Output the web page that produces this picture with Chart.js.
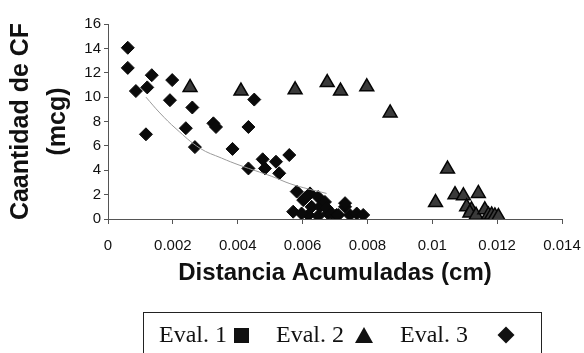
<!DOCTYPE html>
<html lang="es">
<head>
<meta charset="UTF-8">
<title>Cantidad de CF vs distancia</title>
<script src="https://cdn.jsdelivr.net/npm/chart.js"></script>
<style>
    html, body { margin: 0; padding: 0; background: #fff; }
    .wrap { position: relative; width: 584px; height: 353px; overflow: hidden; }
    #chart { position: absolute; left: 0; top: 0; }
    .legend {
        position: absolute; left: 143px; top: 312px; width: 399px; height: 50px;
        border: 1.5px solid #222; box-sizing: border-box;
        font-family: "Liberation Serif", "Times New Roman", serif; font-size: 24px; color: #111;
    }
    .legend span { position: absolute; top: 8px; line-height: 27px; }
    .mk { display: inline-block; position: absolute; }
    .sq { width: 15px; height: 15px; background: #111; top: 15px; }
    .tri { width: 0; height: 0; border-left: 9px solid transparent; border-right: 9px solid transparent; border-bottom: 16px solid #111; top: 14px; }
    .dia { width: 12px; height: 12px; background: #111; transform: rotate(45deg); top: 16px; }
</style>
</head>
<body>
<div class="wrap">
    <canvas id="chart" width="584" height="353"></canvas>
    <div class="legend">
        <span style="left:15px">Eval. 1</span><i class="mk sq" style="left:90px"></i>
        <span style="left:132px">Eval. 2</span><i class="mk tri" style="left:211px"></i>
        <span style="left:256px">Eval. 3</span><i class="mk dia" style="left:356px"></i>
    </div>
</div>

<script>
// Eval. 1 (no hay puntos visibles de esta serie)
const eval1 = [];

// Eval. 2: distancia acumulada (cm), cantidad (mcg)
const eval2X = [0.00253, 0.0041, 0.00577, 0.00676, 0.00717, 0.00798, 0.0087,
    0.0101, 0.01047, 0.0107, 0.01096, 0.01142, 0.01106, 0.01121, 0.01116,
    0.01135, 0.01162, 0.01173, 0.01183, 0.01193, 0.01204];
const eval2Y = [10.8, 10.5, 10.6, 11.2, 10.5, 10.85, 8.7,
    1.35, 4.1, 2.0, 1.9, 2.1, 1.0, 0.75, 0.5,
    0.3, 0.75, 0.33, 0.33, 0.25, 0.2];

// Eval. 3
const eval3X = [0.00061, 0.00061, 0.00086, 0.00121, 0.00135, 0.00117, 0.00198,
    0.00191, 0.0026, 0.0024, 0.00268, 0.00325, 0.00333, 0.00384, 0.00433,
    0.00433, 0.00451, 0.00477, 0.00484, 0.00518, 0.00528, 0.00559, 0.00582,
    0.00571, 0.00602, 0.00607, 0.00623, 0.00628, 0.00618, 0.00597, 0.00648,
    0.00654, 0.00669, 0.00679, 0.00674, 0.00648, 0.0069, 0.00705, 0.0071,
    0.00731, 0.00731, 0.00746, 0.00767, 0.00787];
const eval3Y = [14.05, 12.4, 10.5, 10.8, 11.8, 6.95, 11.4,
    9.75, 9.15, 7.45, 5.9, 7.85, 7.55, 5.75, 7.55,
    4.15, 9.8, 4.9, 4.15, 4.7, 3.75, 5.25, 2.25,
    0.6, 1.55, 1.7, 2.1, 1.0, 0.33, 0.45, 1.8,
    1.0, 1.4, 0.45, 0.9, 0.25, 0.45, 0.33, 0.33,
    1.0, 1.3, 0.33, 0.45, 0.33];

// Línea de tendencia de Eval. 3
const trendX = [0.00117, 0.0016, 0.0021, 0.00284, 0.0035, 0.00407, 0.00505, 0.00561, 0.0062, 0.00674];
const trendY = [10.0, 8.7, 7.4, 5.8, 5.0, 4.4, 3.5, 2.9, 2.45, 2.1];

const xTicks = [0, 0.002, 0.004, 0.006, 0.008, 0.01, 0.012, 0.014];
const yTicks = [0, 2, 4, 6, 8, 10, 12, 14, 16];

const pts = (xs, ys) => xs.map((x, i) => ({ x, y: ys[i] }));
const axisColor = '#555';
const tickFont = { family: 'Liberation Sans, Arial, sans-serif', size: 15 };

new Chart(document.getElementById('chart'), {
    type: 'scatter',
    data: {
        datasets: [
            {
                type: 'line', label: 'Tendencia', data: pts(trendX, trendY),
                borderColor: '#9a9a9a', borderWidth: 1, pointRadius: 0, tension: 0.4, fill: false
            },
            {
                label: 'Eval. 1', data: eval1, pointStyle: 'rect', pointRadius: 6,
                backgroundColor: '#111', borderColor: '#111'
            },
            {
                label: 'Eval. 2', data: pts(eval2X, eval2Y), pointStyle: 'triangle', pointRadius: 8,
                backgroundColor: '#3a3a3a', borderColor: '#050505', borderWidth: 1.5
            },
            {
                label: 'Eval. 3', data: pts(eval3X, eval3Y), pointStyle: 'rectRot', pointRadius: 6.5,
                backgroundColor: '#0a0a0a', borderColor: '#0a0a0a', borderWidth: 1
            }
        ]
    },
    options: {
        responsive: false,
        animation: false,
        events: [],
        layout: { padding: { top: 24, right: 22, bottom: 63, left: 0 } },
        plugins: { legend: { display: false }, tooltip: { enabled: false } },
        scales: {
            x: {
                type: 'linear', min: 0, max: 0.014,
                afterBuildTicks: s => { s.ticks = xTicks.map(v => ({ value: v })); },
                // fixed box so the plot runs from x=108 to x=562
                afterFit: s => { s.height = 71; s.paddingLeft = 0; s.paddingRight = 0; },
                grid: { drawOnChartArea: false, tickLength: 5, color: axisColor },
                border: { color: axisColor, width: 1 },
                ticks: {
                    color: '#111', font: tickFont, padding: 13, maxRotation: 0,
                    callback: v => String(+v.toFixed(3))
                },
                title: {
                    display: true, text: 'Distancia Acumuladas (cm)', color: '#111',
                    font: { family: 'Liberation Sans, Arial, sans-serif', size: 24, weight: 'bold' },
                    padding: { top: 0, bottom: 2 }
                }
            },
            y: {
                type: 'linear', min: 0, max: 16,
                afterBuildTicks: s => { s.ticks = yTicks.map(v => ({ value: v })); },
                afterFit: s => { s.width = 108; s.paddingTop = 0; s.paddingBottom = 0; },
                grid: { drawOnChartArea: false, tickLength: 4, color: axisColor },
                border: { color: axisColor, width: 1 },
                ticks: { color: '#111', font: tickFont, padding: 3 },
                title: {
                    display: true, text: ['Caantidad de CF', '(mcg)'], color: '#111',
                    font: { family: 'Liberation Sans, Arial, sans-serif', size: 25, weight: 'bold', lineHeight: 1.46 },
                    padding: { top: 3, bottom: 0 }
                }
            }
        }
    }
});
</script>
</body>
</html>
